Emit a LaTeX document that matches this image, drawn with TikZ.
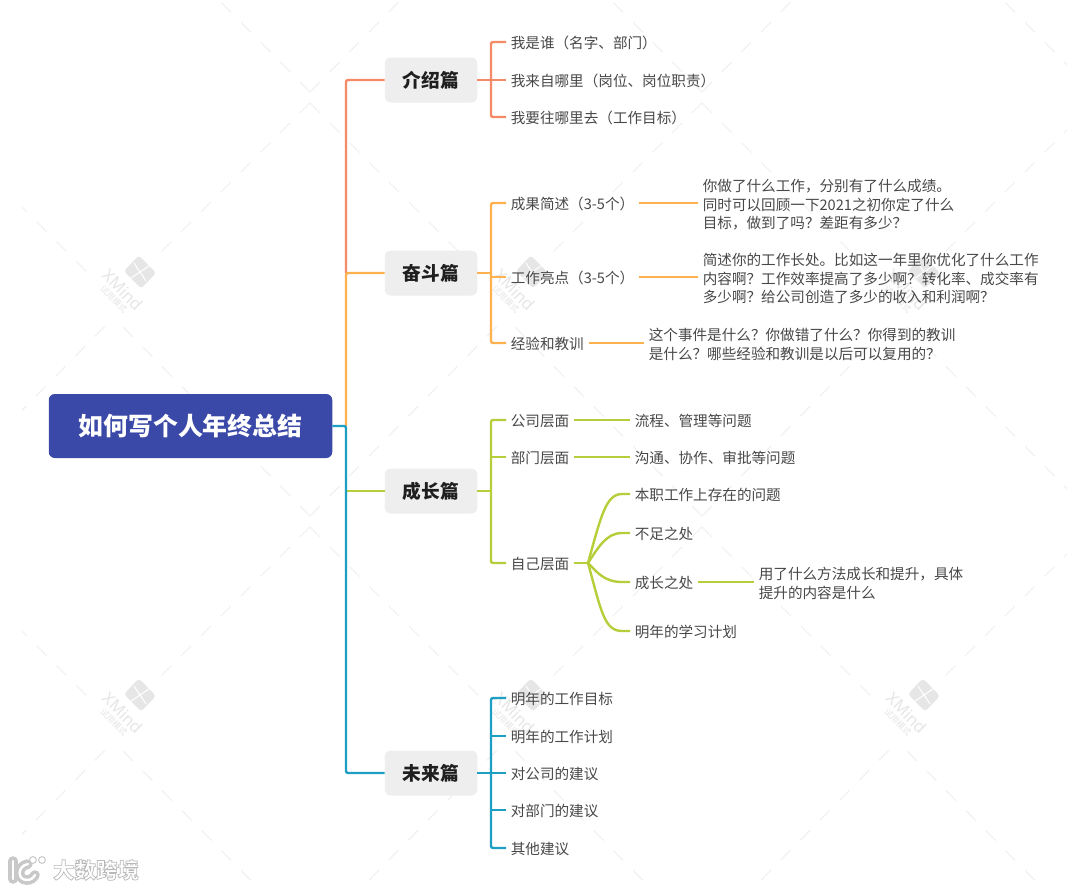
\documentclass[tikz,border=0pt]{standalone}
\usepackage{fontspec}
\setmainfont{Noto Sans CJK SC}
\newfontfamily\wmfont{Noto Sans}
\newcommand{\tallstrut}{\rule{0pt}{16.5pt}}
\definecolor{cSalmon}{HTML}{F58B66}
\definecolor{cOrange}{HTML}{FDB14F}
\definecolor{cGreen}{HTML}{B7CE3A}
\definecolor{cTeal}{HTML}{1C9FC3}
\definecolor{cCentral}{HTML}{3A48A8}
\definecolor{cTopic}{HTML}{EEEEEE}
\definecolor{cText}{HTML}{484848}
\definecolor{cWm}{HTML}{EFEFEF}
\definecolor{cWmLogo}{HTML}{E6E6E6}
\definecolor{cBrand}{HTML}{C8C8C8}
\tikzset{
  central/.style={fill=cCentral,rounded corners=6pt,minimum width=283.5pt,minimum height=64pt,inner sep=0pt,text=white,font=\fontsize{24.9}{30}\selectfont\bfseries},
  topic/.style={fill=cTopic,rounded corners=6pt,minimum width=92.5pt,minimum height=45pt,inner sep=0pt,text=black!88,font=\fontsize{18.7}{22}\selectfont\bfseries},
  leaf/.style={anchor=west,inner xsep=4.6pt,inner ysep=0pt,text=cText,align=left,font=\fontsize{14.6}{18.7}\selectfont,
    execute at begin node={\rule{0pt}{14.5pt}},execute at end node={\rule[-2.5pt]{0pt}{0pt}}},
  conn/.style={line width=2.4pt,rounded corners=2pt},
  fanline/.style={line width=2.4pt,cGreen},
  wmline/.style={cWm,line width=1pt,dash pattern=on 14pt off 14pt},
  brandline/.style={draw=cBrand,line width=3.6pt,double=white,double distance=2.4pt,line cap=round},
}
\begin{document}
\begin{tikzpicture}[x=1pt,y=-1pt]
\useasboundingbox (0,0) rectangle (1080,889);
\fill[white] (0,0) rectangle (1080,889);
% watermark lattice
\begin{scope}
\clip (22,0) rectangle (1067,889);
\foreach \lx in {-82,310,702,1094}{
  \foreach \ly in {-321,103,527}{
    \draw[wmline] (\lx,\ly) -- ++(170,170);
    \draw[wmline] (\lx+392,\ly+413) -- ++(-189,-191);
    \draw[wmline] (\lx,\ly) -- ++(-150,150);
    \draw[wmline] (\lx-392,\ly+413) -- ++(190,-193);
  }
}
\end{scope}
\foreach \wx/\wy/\wn in {140/272/a,532/272/b,924/272/c,140/695/d,532/695/e,924/695/f}{
  \fill[cWmLogo,rounded corners=3pt] (\wx+16,\wy+1) -- (\wx+1,\wy+16.5) -- (\wx-16,\wy-1) -- (\wx-1,\wy-16.5) -- cycle;
  \draw[white,line width=1pt] (\wx-6,\wy-9) .. controls (\wx-1,\wy-1) and (\wx+1,\wy+1) .. (\wx+6,\wy+9);
  \draw[white,line width=1pt] (\wx+9,\wy-6) .. controls (\wx+1,\wy-1) and (\wx-1,\wy+1) .. (\wx-9,\wy+6);
  \node[rotate=-45,text=cWmLogo,inner sep=0pt,font=\wmfont\fontsize{16.5}{20}\selectfont] (wm\wn) at (\wx-17,\wy+18) {XMind};
  \node[rotate=-45,text=cWmLogo,inner sep=0pt,font=\fontsize{8.5}{10}\selectfont] (ws\wn) at (\wx-26,\wy+27) {试用模式};
}
% central and topics
\node[central] (root) at (190.5,426) {如何写个人年终总结};
\node[topic] (t1) at (431,80) {介绍篇};
\node[topic] (t2) at (431,273) {奋斗篇};
\node[topic] (t3) at (431,491) {成长篇};
\node[topic] (t4) at (431,773) {未来篇};
% leaves
\node[leaf] (a1) at (506,42) {我是谁（名字、部门）};
\node[leaf] (a2) at (506,80) {我来自哪里（岗位、岗位职责）};
\node[leaf] (a3) at (506,117) {我要往哪里去（工作目标）};
\node[leaf] (b1) at (506,203) {成果简述（3-5个）};
\node[leaf] (b2) at (506,277) {工作亮点（3-5个）};
\node[leaf] (b3) at (506,343) {经验和教训};
\node[leaf] (b1a) at (698,203) {\tallstrut 你做了什么工作，分别有了什么成绩。\\同时可以回顾一下2021之初你定了什么\\目标，做到了吗？差距有多少？};
\node[leaf] (b2a) at (698,277) {\tallstrut 简述你的工作长处。比如这一年里你优化了什么工作\\内容啊？工作效率提高了多少啊？转化率、成交率有\\多少啊？给公司创造了多少的收入和利润啊？};
\node[leaf] (b3a) at (644,343) {\tallstrut 这个事件是什么？你做错了什么？你得到的教训\\是什么？哪些经验和教训是以后可以复用的？};
\node[leaf] (c1) at (506,420) {公司层面};
\node[leaf] (c2) at (506,457) {部门层面};
\node[leaf] (c3) at (506,563) {自己层面};
\node[leaf] (c1a) at (630,420) {流程、管理等问题};
\node[leaf] (c2a) at (630,457) {沟通、协作、审批等问题};
\node[leaf] (c3a) at (630,494) {本职工作上存在的问题};
\node[leaf] (c3b) at (630,533) {不足之处};
\node[leaf] (c3c) at (630,582) {成长之处};
\node[leaf] (c3d) at (630,631) {明年的学习计划};
\node[leaf] (c3e) at (754,582) {\tallstrut 用了什么方法成长和提升，具体\\提升的内容是什么};
\node[leaf] (d1) at (506,698) {明年的工作目标};
\node[leaf] (d2) at (506,736) {明年的工作计划};
\node[leaf] (d3) at (506,773) {对公司的建议};
\node[leaf] (d4) at (506,810) {对部门的建议};
\node[leaf] (d5) at (506,848) {其他建议};
% junctions
\coordinate (trunk) at (346,426);
\coordinate (j1) at (491,80);
\coordinate (j2) at (491,273);
\coordinate (j3) at (491,491);
\coordinate (j4) at (491,773);
\coordinate (fan) at (588,563);
% trunk
\draw[conn,cSalmon] (t1.west) -| (t2.west -| trunk);
\draw[conn,cOrange] (t2.west) -- (t2.west -| trunk) -- (trunk);
\draw[conn,cGreen] (t3.west) -- (t3.west -| trunk);
\draw[conn,cTeal] (root.east) -- (trunk) |- (t4.west);
% branch 1
\draw[conn,cSalmon] (t1.east) -- (a2.west);
\draw[conn,cSalmon] (a1.west) -| (j1) |- (a3.west);
% branch 2
\draw[conn,cOrange] (t2.east) -- (j2);
\draw[conn,cOrange] (b1.west) -| (j2) |- (b3.west);
\draw[conn,cOrange] (b2.west) -- (b2.west -| j2);
\draw[conn,cOrange] (b1.east) -- (b1a.west);
\draw[conn,cOrange] (b2.east) -- (b2a.west);
\draw[conn,cOrange] (b3.east) -- (b3a.west);
% branch 3
\draw[conn,cGreen] (t3.east) -- (j3);
\draw[conn,cGreen] (c1.west) -| (j3) |- (c3.west);
\draw[conn,cGreen] (c2.west) -- (c2.west -| j3);
\draw[conn,cGreen] (c1.east) -- (c1a.west);
\draw[conn,cGreen] (c2.east) -- (c2a.west);
\draw[conn,cGreen] (c3.east) -- (fan);
\draw[fanline] (fan) .. controls (601,516) and (606,494) .. (622,494) -- (c3a.west);
\draw[fanline] (fan) .. controls (598,548) and (606,533) .. (622,533) -- (c3b.west);
\draw[fanline] (fan) .. controls (597,572) and (604,582) .. (622,582) -- (c3c.west);
\draw[fanline] (fan) .. controls (601,610) and (604,631) .. (622,631) -- (c3d.west);
\draw[conn,cGreen] (c3c.east) -- (c3e.west);
% branch 4
\draw[conn,cTeal] (t4.east) -- (d3.west);
\draw[conn,cTeal] (d1.west) -| (j4) |- (d5.west);
\draw[conn,cTeal] (d2.west) -- (d2.west -| j4);
\draw[conn,cTeal] (d4.west) -- (d4.west -| j4);
% brand mark
\draw[brandline] (13,861) -- (13,879);
\draw[brandline] (28,864) .. controls (17,866) and (17,880) .. (27,880) .. controls (31,880) and (33,878) .. (35,875);
\draw[cBrand,line width=1pt,fill=white] (33,860) circle (3.4);
\draw[cBrand,line width=1pt,fill=white] (42,860) circle (3.4);
\node[inner sep=0pt,font=\fontsize{21.5}{24}\selectfont\bfseries] (brand) at (96,870) {\special{pdf:code q 1 1 1 rg 0.72 0.72 0.72 RG 0.7 w 2 Tr}大数跨境\special{pdf:code 0 Tr Q}};
\end{tikzpicture}
\end{document}
